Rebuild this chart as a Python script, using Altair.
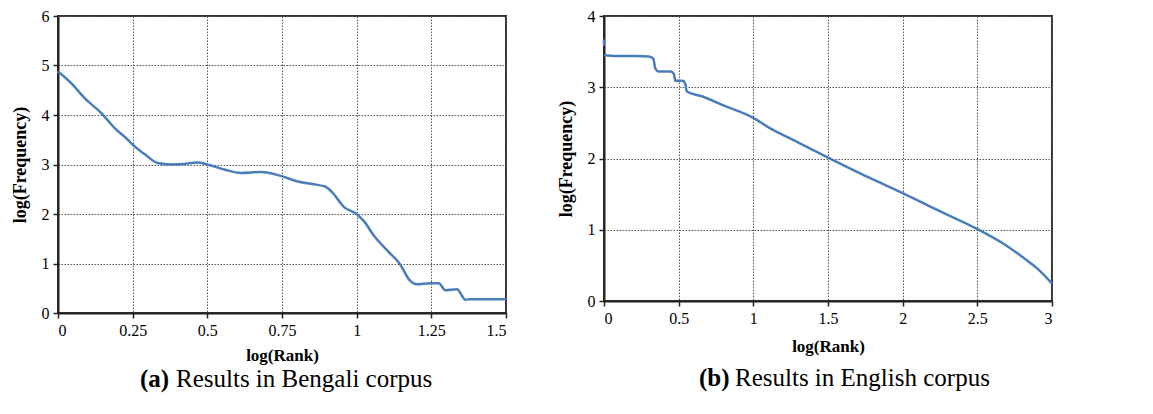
import altair as alt
import pandas as pd

# Bengali corpus (panel a)
bn_rank = [0.0, 0.045, 0.089, 0.145, 0.189, 0.234, 0.25, 0.29, 0.334, 0.379, 0.42, 0.468,
           0.5, 0.557, 0.612, 0.68, 0.746, 0.80, 0.857, 0.896, 0.919, 0.958, 0.997, 1.025,
           1.058, 1.103, 1.147, 1.175, 1.203, 1.247, 1.275, 1.297, 1.336, 1.364, 1.381, 1.5]
bn_freq = [4.88, 4.64, 4.34, 4.04, 3.74, 3.50, 3.40, 3.21, 3.03, 3.00, 3.01, 3.04,
           3.00, 2.90, 2.83, 2.85, 2.77, 2.66, 2.60, 2.55, 2.43, 2.14, 2.01, 1.85,
           1.56, 1.26, 0.97, 0.68, 0.58, 0.60, 0.60, 0.46, 0.48, 0.27, 0.28, 0.28]

# English corpus (panel b)
en_rank = [0.0, 0.08, 0.214, 0.30, 0.33, 0.344, 0.366, 0.449, 0.467, 0.478, 0.527, 0.545,
           0.554, 0.66, 0.795, 1.0, 1.107, 1.24, 1.504, 1.777, 2.0, 2.22, 2.5, 2.67,
           2.80, 2.915, 3.0]
en_freq = [3.45, 3.44, 3.44, 3.43, 3.40, 3.26, 3.22, 3.22, 3.19, 3.09, 3.09, 3.04,
           2.94, 2.87, 2.75, 2.57, 2.43, 2.29, 2.01, 1.73, 1.515, 1.29, 1.01, 0.81,
           0.62, 0.43, 0.245]
en_first_rank = [0.0]
en_first_lo = [3.58]
en_first_hi = [3.67]

bn_xticks = [0, 0.25, 0.5, 0.75, 1, 1.25, 1.5]
bn_yticks = [0, 1, 2, 3, 4, 5, 6]
en_xticks = [0, 0.5, 1, 1.5, 2, 2.5, 3]
en_yticks = [0, 1, 2, 3, 4]

cap_labels = ["(a)", "(b)"]
cap_texts = ["Results in Bengali corpus", "Results in English corpus"]

FONT = "Liberation Serif"
LINE = "#4a7ebb"
LABEL_EXPR = "'' + datum.value"


def panel(rank, freq, xdom, xticks, ydom, yticks, w, h, lab, txt, cap_x, cap_y, xtitle_pad, extra=None):
    df = pd.DataFrame({"rank": rank, "freq": freq})
    x = alt.X("rank:Q", scale=alt.Scale(domain=xdom, nice=False, zero=False),
              axis=alt.Axis(values=xticks, labelExpr=LABEL_EXPR, title="log(Rank)",
                            labelFont=FONT, labelFontSize=16, titleFontSize=17,
                            titlePadding=xtitle_pad))
    y = alt.Y("freq:Q", scale=alt.Scale(domain=ydom, nice=False, zero=False),
              axis=alt.Axis(values=yticks, labelExpr=LABEL_EXPR, title="log(Frequency)",
                            labelFont=FONT, labelFontSize=16,
                            titleFontSize=18, titlePadding=12))
    line = alt.Chart(df).mark_line(color=LINE, strokeWidth=2.5, interpolate="monotone").encode(x=x, y=y)
    layers = [line]
    if extra is not None:
        layers.append(extra)
    cap_a = alt.Chart(pd.DataFrame({"t": [lab]})).mark_text(
        font=FONT, fontSize=25, fontWeight="bold", align="left", baseline="middle", color="black"
    ).encode(text="t:N", x=alt.value(cap_x), y=alt.value(cap_y))
    cap_b = alt.Chart(pd.DataFrame({"t": [txt]})).mark_text(
        font=FONT, fontSize=25, align="left", baseline="middle", color="black"
    ).encode(text="t:N", x=alt.value(cap_x + 36), y=alt.value(cap_y))
    layers += [cap_a, cap_b]
    return alt.layer(*layers).properties(width=w, height=h)


seg = alt.Chart(pd.DataFrame({"r": en_first_rank, "lo": en_first_lo, "hi": en_first_hi})).mark_rule(
    color=LINE, strokeWidth=2.5
).encode(x=alt.X("r:Q"), y=alt.Y("lo:Q"), y2="hi:Q")

left = panel(bn_rank, bn_freq, [0, 1.5], bn_xticks, [0, 6], bn_yticks, 448, 297,
             cap_labels[0], cap_texts[0], 82, 363, 9)
right = panel(en_rank, en_freq, [0, 3], en_xticks, [0, 4], en_yticks, 448, 285,
              cap_labels[1], cap_texts[1], 95, 362, 12, extra=seg)

chart = alt.hconcat(left, right, spacing=44).properties(
    padding={"left": 10, "top": 7, "right": 0, "bottom": 0}
).configure_view(
    stroke="#333", strokeWidth=2
).configure_axis(
    domainColor="#222", domainWidth=2, tickColor="#222", tickWidth=1.5, tickSize=5,
    grid=True, gridColor="#555", gridDash=[1.5, 1.5], gridWidth=1,
    labelFont=FONT, labelFontSize=16, labelColor="black", labelPadding=4,
    titleFont=FONT, titleFontSize=17, titleFontWeight="bold", titleColor="black",
)

chart.save("out.html", embed_options={"renderer": "svg", "actions": False})
